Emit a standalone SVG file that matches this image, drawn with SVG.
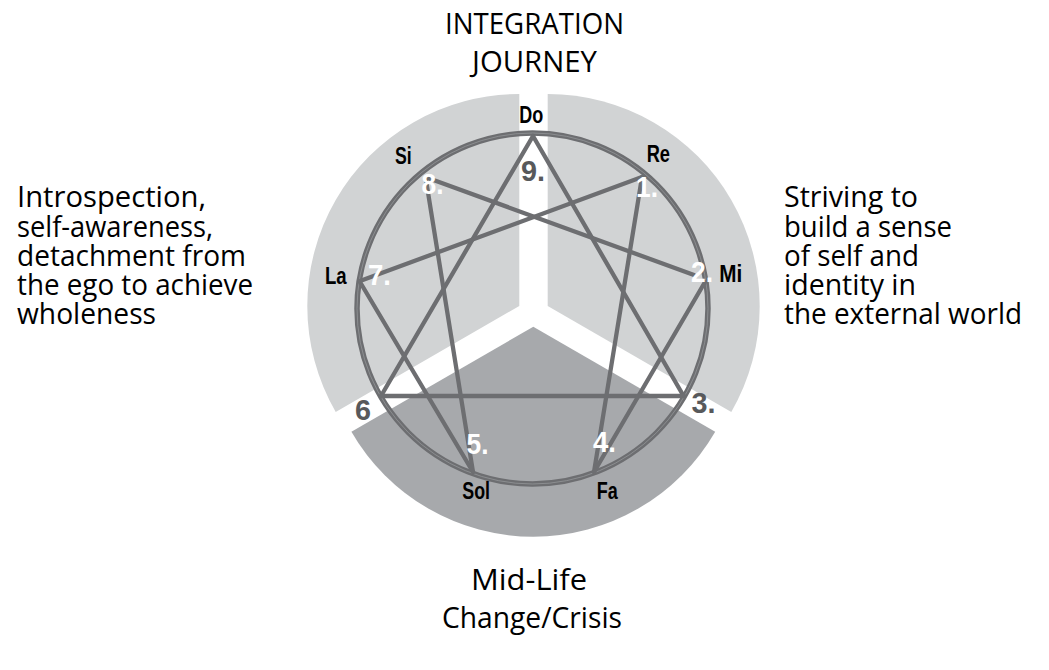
<svg xmlns="http://www.w3.org/2000/svg" width="1049" height="670" viewBox="0 0 1049 670">
<style>
.txt{font-family:"Open Sans","Liberation Sans",sans-serif;font-size:30px;fill:#000}
.note{font-family:"Liberation Sans",sans-serif;font-weight:bold;font-size:24.5px;fill:#000}
.num{font-family:"Liberation Sans",sans-serif;font-weight:bold;font-size:30px}
.w{fill:#fff}
.d{fill:#58595b}
.ln{stroke:#6d6e71;stroke-width:4.3;fill:none;stroke-linecap:round;stroke-linejoin:round}
</style>
<rect width="1049" height="670" fill="#fff"/>
<g id="sectors">
<path id="sector-left" fill="#d1d3d4" d="M519.3,306 L519.3,94 A212,212 0 0 0 335.7,412 Z"/>
<path id="sector-right" fill="#d1d3d4" d="M547.7,306 L547.7,94 A212,212 0 0 1 731.3,412 Z"/>
<path id="sector-bottom" fill="#a7a9ac" d="M533.3,326.7 L351.4,431.7 A210,210 0 0 0 715.2,431.7 Z"/>
</g>
<g id="circle">
<circle cx="532.5" cy="308.5" r="175.5" fill="none" stroke="#6d6e71" stroke-width="5.5"/>
<circle cx="532.5" cy="308.5" r="175.5" fill="none" stroke="#939598" stroke-width="0.8"/>
</g>
<g id="connectors" class="ln">
<line x1="533" y1="136" x2="683" y2="395"/>
<line x1="533" y1="136" x2="381" y2="396"/>
<line x1="381" y1="396" x2="684" y2="396"/>
<line x1="642" y1="177" x2="594" y2="472"/>
<line x1="594" y1="472" x2="705" y2="282"/>
<line x1="694" y1="275" x2="428" y2="178"/>
<line x1="426" y1="180" x2="473" y2="472"/>
<line x1="473" y1="472" x2="360" y2="282"/>
<line x1="360" y1="281" x2="642" y2="177"/>
</g>
<g id="point-9"><text class="num d" x="521" y="181" textLength="24" lengthAdjust="spacingAndGlyphs">9.</text><text class="note" x="519.3" y="122.5" textLength="24" lengthAdjust="spacingAndGlyphs">Do</text></g>
<g id="point-1"><text class="num w" x="636" y="197" textLength="22" lengthAdjust="spacingAndGlyphs">1.</text><text class="note" x="646.7" y="161.7" textLength="23.3" lengthAdjust="spacingAndGlyphs">Re</text></g>
<g id="point-2"><text class="num w" x="691" y="282" textLength="22" lengthAdjust="spacingAndGlyphs">2.</text><text class="note" x="719.3" y="282" textLength="23" lengthAdjust="spacingAndGlyphs">Mi</text></g>
<g id="point-3"><text class="num d" x="691.5" y="413" textLength="24" lengthAdjust="spacingAndGlyphs">3.</text></g>
<g id="point-4"><text class="num w" x="593" y="452" textLength="23" lengthAdjust="spacingAndGlyphs">4.</text><text class="note" x="596.7" y="498.5" textLength="21" lengthAdjust="spacingAndGlyphs">Fa</text></g>
<g id="point-5"><text class="num w" x="466.5" y="454" textLength="22" lengthAdjust="spacingAndGlyphs">5.</text><text class="note" x="462.3" y="499" textLength="27.7" lengthAdjust="spacingAndGlyphs">Sol</text></g>
<g id="point-6"><text class="num d" x="355" y="419.5" textLength="16" lengthAdjust="spacingAndGlyphs">6</text></g>
<g id="point-7"><text class="num w" x="368" y="285" textLength="23" lengthAdjust="spacingAndGlyphs">7.</text><text class="note" x="325" y="284" textLength="21.7" lengthAdjust="spacingAndGlyphs">La</text></g>
<g id="point-8"><text class="num w" x="421.5" y="193.5" textLength="22" lengthAdjust="spacingAndGlyphs">8.</text><text class="note" x="395" y="164" textLength="16.7" lengthAdjust="spacingAndGlyphs">Si</text></g>
<g id="title-top">
<text class="txt"><tspan x="445" y="34" textLength="179" lengthAdjust="spacingAndGlyphs">INTEGRATION</tspan><tspan x="472" y="72" textLength="125" lengthAdjust="spacingAndGlyphs">JOURNEY</tspan></text>
</g>
<g id="title-bottom">
<text class="txt"><tspan x="471" y="590" textLength="116" lengthAdjust="spacingAndGlyphs">Mid-Life</tspan><tspan x="442" y="628" textLength="180" lengthAdjust="spacingAndGlyphs">Change/Crisis</tspan></text>
</g>
<g id="text-left">
<text class="txt"><tspan x="17" y="207.3" textLength="189" lengthAdjust="spacingAndGlyphs">Introspection,</tspan><tspan x="17" y="236.7" textLength="196" lengthAdjust="spacingAndGlyphs">self-awareness,</tspan><tspan x="17" y="266" textLength="229" lengthAdjust="spacingAndGlyphs">detachment from</tspan><tspan x="17" y="295" textLength="236" lengthAdjust="spacingAndGlyphs">the ego to achieve</tspan><tspan x="17" y="324" textLength="139" lengthAdjust="spacingAndGlyphs">wholeness</tspan></text>
</g>
<g id="text-right">
<text class="txt"><tspan x="784" y="207.3" textLength="134" lengthAdjust="spacingAndGlyphs">Striving to</tspan><tspan x="784" y="236.7" textLength="168" lengthAdjust="spacingAndGlyphs">build a sense</tspan><tspan x="784" y="266" textLength="135" lengthAdjust="spacingAndGlyphs">of self and</tspan><tspan x="784" y="295" textLength="132" lengthAdjust="spacingAndGlyphs">identity in</tspan><tspan x="784" y="324" textLength="238" lengthAdjust="spacingAndGlyphs">the external world</tspan></text>
</g>
</svg>
